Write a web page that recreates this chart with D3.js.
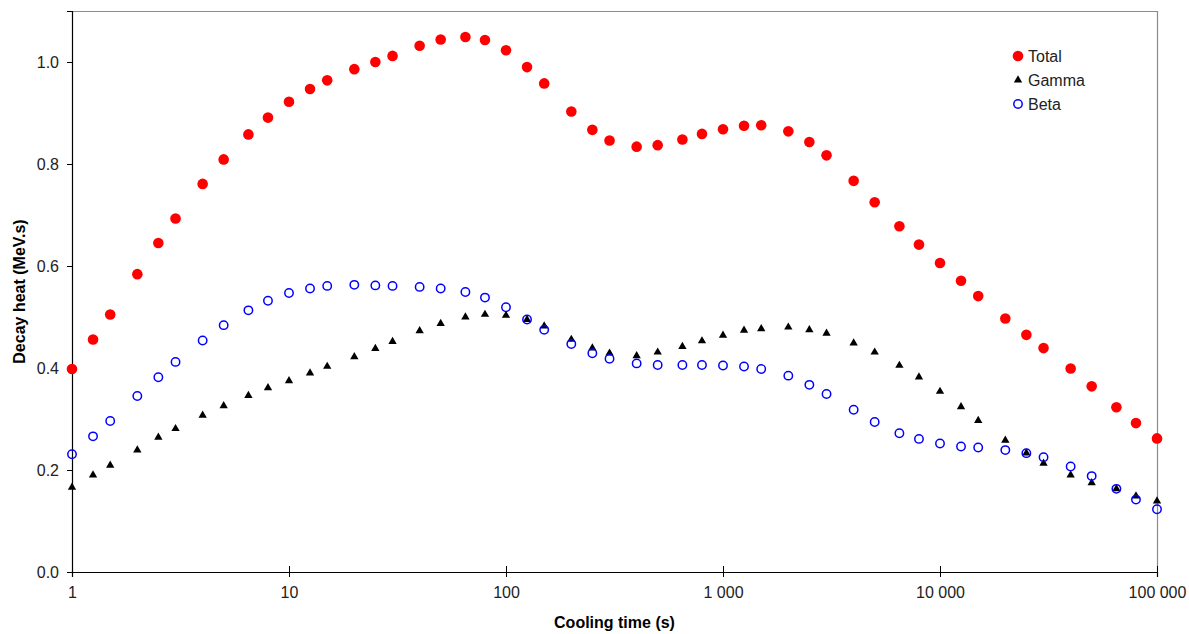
<!DOCTYPE html>
<html>
<head>
<meta charset="utf-8">
<script src="https://cdn.jsdelivr.net/npm/d3@7"></script>
<style>
  html, body { margin: 0; padding: 0; background: #fff; }
  svg { display: block; font-family: "Liberation Sans", Arial, sans-serif; }
</style>
</head>
<body>
<svg id="chart" width="1189" height="634"></svg>
<script>
// Cooling times (s)
const coolingTime = [
  1, 1.25, 1.5, 2, 2.5, 3, 4, 5, 6.5, 8,
  10, 12.5, 15, 20, 25, 30, 40, 50, 65, 80,
  100, 125, 150, 200, 250, 300, 400, 500, 650, 800,
  1000, 1250, 1500, 2000, 2500, 3000, 4000, 5000, 6500, 8000,
  10000, 12500, 15000, 20000, 25000, 30000, 40000, 50000, 65000, 80000,
  100000
];

// Decay heat (MeV.s)
const total = [
  0.398, 0.456, 0.505, 0.584, 0.645, 0.693, 0.761, 0.809, 0.858, 0.891,
  0.922, 0.947, 0.964, 0.986, 1.000, 1.012, 1.032, 1.044, 1.049, 1.043,
  1.023, 0.990, 0.958, 0.903, 0.867, 0.846, 0.834, 0.837, 0.848, 0.859,
  0.868, 0.875, 0.876, 0.864, 0.843, 0.817, 0.767, 0.725, 0.678, 0.642,
  0.606, 0.571, 0.541, 0.497, 0.465, 0.439, 0.399, 0.364, 0.323, 0.292,
  0.262
];

const gamma = [
  0.166, 0.190, 0.209, 0.239, 0.264, 0.281, 0.307, 0.326, 0.346, 0.361,
  0.375, 0.390, 0.403, 0.422, 0.438, 0.452, 0.473, 0.487, 0.500, 0.505,
  0.503, 0.495, 0.482, 0.456, 0.439, 0.429, 0.424, 0.431, 0.442, 0.453,
  0.464, 0.474, 0.477, 0.480, 0.475, 0.468, 0.449, 0.431, 0.405, 0.382,
  0.354, 0.324, 0.297, 0.258, 0.233, 0.213, 0.190, 0.175, 0.163, 0.149,
  0.139
];

const beta = [
  0.231, 0.266, 0.296, 0.345, 0.382, 0.412, 0.454, 0.484, 0.513, 0.532,
  0.547, 0.556, 0.561, 0.563, 0.562, 0.561, 0.559, 0.556, 0.549, 0.538,
  0.519, 0.495, 0.475, 0.447, 0.429, 0.418, 0.409, 0.406, 0.406, 0.406,
  0.405, 0.403, 0.398, 0.385, 0.367, 0.349, 0.318, 0.294, 0.272, 0.261,
  0.252, 0.246, 0.244, 0.239, 0.233, 0.225, 0.207, 0.188, 0.163, 0.142,
  0.123
];

const xTicks = [1, 10, 100, 1000, 10000, 100000];
const xTickLabels = ["1", "10", "100", "1 000", "10 000", "100 000"];
const yTicks = [0, 0.2, 0.4, 0.6, 0.8, 1.0];
const seriesNames = ["Total", "Gamma", "Beta"];

const svg = d3.select("#chart");
const plot = { left: 72, right: 1157, top: 11, bottom: 572 };
const labelFont = 16;
const titleFont = 16;

const x = d3.scaleLog().domain([1, 100000]).range([plot.left, plot.right]);
const y = d3.scaleLinear().domain([0, 1.1]).range([plot.bottom, plot.top]);

// Frame: grey top and right edges
svg.append("path")
  .attr("d", `M${plot.left},${plot.top + 0.5}H${plot.right + 0.5}V${plot.bottom}`)
  .attr("fill", "none")
  .attr("stroke", "#8c8c8c")
  .attr("stroke-width", 1.2);

// Y axis
const yAxis = svg.append("g")
  .attr("transform", `translate(${plot.left},0)`)
  .call(d3.axisLeft(y).tickValues(yTicks).tickFormat(d3.format(".1f")).tickSize(5).tickPadding(8));
yAxis.select(".domain").attr("stroke", "#000").attr("stroke-width", 1.2);
yAxis.selectAll(".tick line").attr("stroke", "#000");
yAxis.selectAll(".tick text")
  .attr("font-size", labelFont)
  .attr("fill", "#222")
  .attr("font-family", "Liberation Sans, Arial, sans-serif");

// X axis (ticks cross the axis line)
const xAxis = svg.append("g")
  .attr("transform", `translate(0,${plot.bottom})`)
  .call(d3.axisBottom(x).tickValues(xTicks)
    .tickFormat((d, i) => xTickLabels[i]).tickSize(5).tickPadding(10));
xAxis.select(".domain").attr("stroke", "#000").attr("stroke-width", 1.2);
xAxis.selectAll(".tick line").attr("stroke", "#000").attr("y1", -6).attr("y2", 5);
xAxis.selectAll(".tick text")
  .attr("font-size", labelFont)
  .attr("fill", "#222")
  .attr("font-family", "Liberation Sans, Arial, sans-serif");

// Axis titles
svg.append("text")
  .attr("x", (plot.left + plot.right) / 2)
  .attr("y", 628)
  .attr("text-anchor", "middle")
  .attr("font-size", titleFont)
  .attr("font-weight", "bold")
  .text("Cooling time (s)");

svg.append("text")
  .attr("transform", `translate(25,${(plot.top + plot.bottom) / 2}) rotate(-90)`)
  .attr("text-anchor", "middle")
  .attr("font-size", titleFont)
  .attr("font-weight", "bold")
  .text("Decay heat (MeV.s)");

const triangle = d3.symbol().type(d3.symbolTriangle).size(30);

// Total: filled red circles
svg.append("g").selectAll("circle")
  .data(coolingTime.map((t, i) => [t, total[i]]))
  .join("circle")
  .attr("cx", d => x(d[0]))
  .attr("cy", d => y(d[1]))
  .attr("r", 5.3)
  .attr("fill", "#ff0000");

// Gamma: black triangles
svg.append("g").selectAll("path")
  .data(coolingTime.map((t, i) => [t, gamma[i]]))
  .join("path")
  .attr("d", triangle)
  .attr("transform", d => `translate(${x(d[0])},${y(d[1])})`)
  .attr("fill", "#000");

// Beta: open blue circles
svg.append("g").selectAll("circle")
  .data(coolingTime.map((t, i) => [t, beta[i]]))
  .join("circle")
  .attr("cx", d => x(d[0]))
  .attr("cy", d => y(d[1]))
  .attr("r", 4.2)
  .attr("fill", "none")
  .attr("stroke", "#0000ff")
  .attr("stroke-width", 1.5);

// Legend
const legend = svg.append("g").attr("transform", "translate(1018,56)");
seriesNames.forEach((name, i) => {
  const g = legend.append("g").attr("transform", `translate(0,${i * 24})`);
  if (name === "Total") {
    g.append("circle").attr("r", 5.3).attr("fill", "#ff0000");
  } else if (name === "Gamma") {
    g.append("path").attr("d", triangle).attr("fill", "#000");
  } else {
    g.append("circle").attr("r", 4.2).attr("fill", "none")
      .attr("stroke", "#0000ff").attr("stroke-width", 1.5);
  }
  g.append("text")
    .attr("x", 10)
    .attr("y", 5.5)
    .attr("font-size", labelFont)
    .attr("fill", "#222")
    .text(name);
});
</script>
</body>
</html>
